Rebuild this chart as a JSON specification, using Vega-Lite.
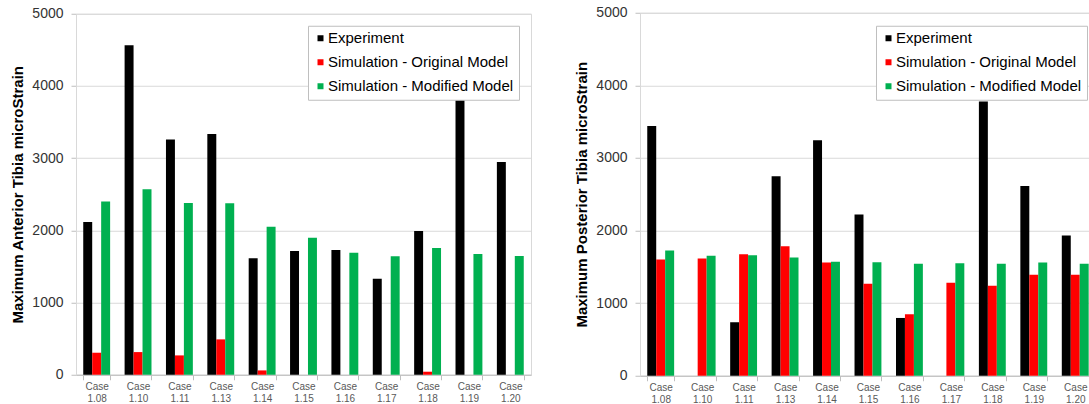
{
  "$schema": "https://vega.github.io/schema/vega-lite/v6.json",
  "padding": {"left": 10, "top": 4.5, "right": 0, "bottom": 0},
  "spacing": 42,
  "center": true,
  "config": {
    "font": "Liberation Sans",
    "view": {"stroke": "#d9d9d9"},
    "axis": {"gridColor": "#d9d9d9", "domainColor": "#d9d9d9", "tickColor": "#bfbfbf"},
    "axisX": {"domainColor": "#bfbfbf", "labelColor": "#595959", "labelFont": "Liberation Sans", "labelFontSize": 10, "labelLineHeight": 12, "labelPadding": 2, "tickSize": 5, "tickBand": "extent", "labelAngle": 0, "grid": false, "title": null},
    "axisY": {"labelColor": "#333333", "labelFontSize": 14, "labelPadding": 8, "tickSize": 5, "titleFontSize": 15, "titleFontWeight": "bold", "titleColor": "#000000", "titlePadding": 6, "grid": true, "format": "d"},
    "legend": {"strokeColor": "#bfbfbf", "fillColor": "#ffffff", "padding": 5, "symbolType": "square", "symbolSize": 36, "symbolStrokeWidth": 0, "labelFontSize": 15, "labelColor": "#000000", "labelOffset": 0, "labelLimit": 0, "rowPadding": 8, "orient": "none", "title": null}
  },
  "datasets": {
    "anterior": [
      {"case": "Case 1.08", "series": "Experiment", "value": 2115},
      {"case": "Case 1.08", "series": "Simulation - Original Model", "value": 305},
      {"case": "Case 1.08", "series": "Simulation - Modified Model", "value": 2400},
      {"case": "Case 1.10", "series": "Experiment", "value": 4563},
      {"case": "Case 1.10", "series": "Simulation - Original Model", "value": 314},
      {"case": "Case 1.10", "series": "Simulation - Modified Model", "value": 2570},
      {"case": "Case 1.11", "series": "Experiment", "value": 3260},
      {"case": "Case 1.11", "series": "Simulation - Original Model", "value": 268},
      {"case": "Case 1.11", "series": "Simulation - Modified Model", "value": 2380},
      {"case": "Case 1.13", "series": "Experiment", "value": 3335},
      {"case": "Case 1.13", "series": "Simulation - Original Model", "value": 490},
      {"case": "Case 1.13", "series": "Simulation - Modified Model", "value": 2375},
      {"case": "Case 1.14", "series": "Experiment", "value": 1612},
      {"case": "Case 1.14", "series": "Simulation - Original Model", "value": 60},
      {"case": "Case 1.14", "series": "Simulation - Modified Model", "value": 2050},
      {"case": "Case 1.15", "series": "Experiment", "value": 1714},
      {"case": "Case 1.15", "series": "Simulation - Modified Model", "value": 1898},
      {"case": "Case 1.16", "series": "Experiment", "value": 1727},
      {"case": "Case 1.16", "series": "Simulation - Modified Model", "value": 1690},
      {"case": "Case 1.17", "series": "Experiment", "value": 1330},
      {"case": "Case 1.17", "series": "Simulation - Modified Model", "value": 1640},
      {"case": "Case 1.18", "series": "Experiment", "value": 1991},
      {"case": "Case 1.18", "series": "Simulation - Original Model", "value": 42},
      {"case": "Case 1.18", "series": "Simulation - Modified Model", "value": 1755},
      {"case": "Case 1.19", "series": "Experiment", "value": 3805},
      {"case": "Case 1.19", "series": "Simulation - Modified Model", "value": 1672},
      {"case": "Case 1.20", "series": "Experiment", "value": 2948},
      {"case": "Case 1.20", "series": "Simulation - Modified Model", "value": 1644}
    ],
    "posterior": [
      {"case": "Case 1.08", "series": "Experiment", "value": 3441},
      {"case": "Case 1.08", "series": "Simulation - Original Model", "value": 1602},
      {"case": "Case 1.08", "series": "Simulation - Modified Model", "value": 1725},
      {"case": "Case 1.10", "series": "Simulation - Original Model", "value": 1616},
      {"case": "Case 1.10", "series": "Simulation - Modified Model", "value": 1652},
      {"case": "Case 1.11", "series": "Experiment", "value": 737},
      {"case": "Case 1.11", "series": "Simulation - Original Model", "value": 1675},
      {"case": "Case 1.11", "series": "Simulation - Modified Model", "value": 1661},
      {"case": "Case 1.13", "series": "Experiment", "value": 2747},
      {"case": "Case 1.13", "series": "Simulation - Original Model", "value": 1785},
      {"case": "Case 1.13", "series": "Simulation - Modified Model", "value": 1629},
      {"case": "Case 1.14", "series": "Experiment", "value": 3244},
      {"case": "Case 1.14", "series": "Simulation - Original Model", "value": 1561},
      {"case": "Case 1.14", "series": "Simulation - Modified Model", "value": 1570},
      {"case": "Case 1.15", "series": "Experiment", "value": 2220},
      {"case": "Case 1.15", "series": "Simulation - Original Model", "value": 1268},
      {"case": "Case 1.15", "series": "Simulation - Modified Model", "value": 1565},
      {"case": "Case 1.16", "series": "Experiment", "value": 796},
      {"case": "Case 1.16", "series": "Simulation - Original Model", "value": 847},
      {"case": "Case 1.16", "series": "Simulation - Modified Model", "value": 1542},
      {"case": "Case 1.17", "series": "Simulation - Original Model", "value": 1281},
      {"case": "Case 1.17", "series": "Simulation - Modified Model", "value": 1551},
      {"case": "Case 1.18", "series": "Experiment", "value": 3777},
      {"case": "Case 1.18", "series": "Simulation - Original Model", "value": 1240},
      {"case": "Case 1.18", "series": "Simulation - Modified Model", "value": 1542},
      {"case": "Case 1.19", "series": "Experiment", "value": 2614},
      {"case": "Case 1.19", "series": "Simulation - Original Model", "value": 1391},
      {"case": "Case 1.19", "series": "Simulation - Modified Model", "value": 1561},
      {"case": "Case 1.20", "series": "Experiment", "value": 1931},
      {"case": "Case 1.20", "series": "Simulation - Original Model", "value": 1391},
      {"case": "Case 1.20", "series": "Simulation - Modified Model", "value": 1542}
    ]
  },
  "hconcat": [
    {
      "width": 455,
      "height": 361,
      "data": {"name": "anterior"},
      "mark": {"type": "bar"},
      "encoding": {
        "x": {"field": "case", "type": "nominal", "scale": {"paddingInner": 0.35, "paddingOuter": 0.175}, "axis": {"labelExpr": "split(datum.label, ' ')"}},
        "xOffset": {"field": "series", "type": "nominal", "sort": ["Experiment", "Simulation - Original Model", "Simulation - Modified Model"], "scale": {"paddingInner": 0, "paddingOuter": 0}},
        "y": {"field": "value", "type": "quantitative", "scale": {"domain": [0, 5000], "nice": false}, "axis": {"title": "Maximum Anterior Tibia microStrain", "values": [0, 1000, 2000, 3000, 4000, 5000]}},
        "color": {"field": "series", "type": "nominal", "scale": {"domain": ["Experiment", "Simulation - Original Model", "Simulation - Modified Model"], "range": ["#000000", "#ff0000", "#00b050"]}, "legend": {"legendX": 232, "legendY": 12}}
      }
    },
    {
      "width": 456,
      "height": 363,
      "data": {"name": "posterior"},
      "mark": {"type": "bar"},
      "encoding": {
        "x": {"field": "case", "type": "nominal", "scale": {"paddingInner": 0.35, "paddingOuter": 0.175}, "axis": {"labelExpr": "split(datum.label, ' ')"}},
        "xOffset": {"field": "series", "type": "nominal", "sort": ["Experiment", "Simulation - Original Model", "Simulation - Modified Model"], "scale": {"paddingInner": 0, "paddingOuter": 0}},
        "y": {"field": "value", "type": "quantitative", "scale": {"domain": [0, 5000], "nice": false}, "axis": {"title": "Maximum Posterior Tibia microStrain", "values": [0, 1000, 2000, 3000, 4000, 5000]}},
        "color": {"field": "series", "type": "nominal", "scale": {"domain": ["Experiment", "Simulation - Original Model", "Simulation - Modified Model"], "range": ["#000000", "#ff0000", "#00b050"]}, "legend": {"legendX": 236, "legendY": 13}}
      }
    }
  ],
  "resolve": {"scale": {"color": "shared"}, "legend": {"color": "independent"}}
}
